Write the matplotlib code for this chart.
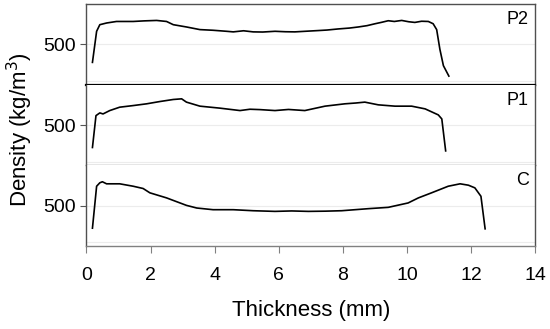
import matplotlib.pyplot as plt

plt.rcParams['font.family'] = ['Liberation Sans', 'DejaVu Sans']

# density profiles (thickness in mm, density in kg/m3)
p2_x = [0.19, 0.32, 0.42, 0.63, 0.94, 1.46, 1.80, 2.19, 2.50, 2.71, 3.12, 3.54,
        3.95, 4.37, 4.58, 4.90, 5.20, 5.50, 5.88, 6.20, 6.50, 6.90, 7.23, 7.50,
        7.85, 8.20, 8.48, 8.75, 9.00, 9.20, 9.41, 9.60, 9.83, 10.05, 10.24,
        10.45, 10.66, 10.81, 10.92, 11.02, 11.13, 11.30]
p2_y = [254, 678, 768, 791, 812, 812, 820, 826, 812, 768, 737, 701,
        692, 678, 670, 685, 670, 668, 678, 672, 670, 680, 688, 695,
        710, 722, 737, 755, 781, 800, 822, 812, 826, 808, 799,
        815, 812, 781, 701, 433, 209, 67]

p1_x = [0.19, 0.30, 0.42, 0.52, 0.73, 1.04, 1.46, 1.88, 2.29, 2.71, 2.97, 3.12,
        3.54, 4.16, 4.79, 5.10, 5.41, 5.88, 6.30, 6.81, 7.44, 8.06, 8.40, 8.68,
        9.10, 9.62, 10.14, 10.56, 10.97, 11.08, 11.20]
p1_y = [193, 628, 665, 651, 697, 743, 765, 789, 820, 848, 857, 812,
        757, 730, 697, 715, 710, 697, 712, 697, 757, 789, 800, 812,
        775, 757, 757, 720, 638, 583, 147]

c_x = [0.19, 0.32, 0.42, 0.50, 0.63, 1.04, 1.46, 1.77, 1.98, 2.50, 3.12, 3.44,
       3.95, 4.58, 5.20, 5.88, 6.40, 6.92, 7.45, 7.96, 8.79, 9.41, 10.03,
       10.35, 10.76, 11.28, 11.65, 11.91, 12.11, 12.30, 12.43]
c_y = [193, 765, 812, 826, 798, 798, 765, 734, 675, 606, 504, 468,
       445, 445, 431, 422, 428, 422, 425, 431, 459, 477, 537,
       606, 675, 765, 798, 779, 743, 628, 184]

labels = ['P2', 'P1', 'C']
xs = [p2_x, p1_x, c_x]
ys = [p2_y, p1_y, c_y]

fig = plt.figure(figsize=(5.5, 3.29), dpi=100)
gs = fig.add_gridspec(3, 1, left=0.157, right=0.9736, top=0.9878,
                      bottom=0.2523, hspace=0)
axes = [fig.add_subplot(gs[i]) for i in range(3)]

for i, ax in enumerate(axes):
    ax.plot(xs[i], ys[i], color='black', lw=1.2)
    ax.set_xlim(0, 14)
    ax.set_ylim(-50, 1050)
    ax.set_yticks([500])
    ax.set_yticklabels(['500'])
    for yv in [0, 500]:
        ax.axhline(yv, color='#ececec', lw=0.8, zorder=0)
    ax.text(0.985, 0.75, labels[i], transform=ax.transAxes, ha='right',
            va='baseline', fontsize=13)
    ax.tick_params(axis='y', direction='out', length=4.5, width=0.8,
                   color='#555555', labelsize=14, pad=3)
    for s in ['left', 'right', 'top', 'bottom']:
        ax.spines[s].set_color('#505050')
        ax.spines[s].set_linewidth(1.0)
    if i > 0:
        ax.spines['top'].set_visible(False)
    if i < 2:
        ax.tick_params(axis='x', bottom=False, labelbottom=False)

axes[0].spines['bottom'].set_color('black')
axes[0].spines['bottom'].set_linewidth(1.6)
axes[1].spines['bottom'].set_color('#808080')
axes[2].spines['bottom'].set_color('#808080')

axes[2].set_xticks([0, 2, 4, 6, 8, 10, 12, 14])
axes[2].tick_params(axis='x', direction='out', length=5, width=0.8,
                    color='#808080', labelsize=14, pad=10)
axes[2].set_xlabel('Thickness (mm)', fontsize=16, labelpad=12)

fig.text(0.036, 0.607, 'Density (kg/m$^3$)', rotation=90, ha='center',
         va='center', fontsize=16)

fig.savefig('out.png', dpi=100)
